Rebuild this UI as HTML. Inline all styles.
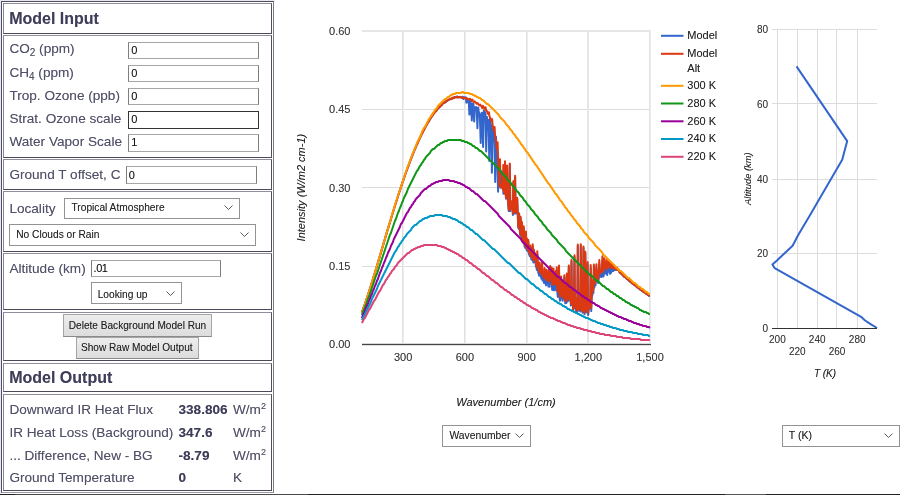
<!DOCTYPE html>
<html><head><meta charset="utf-8">
<style>
html,body{margin:0;padding:0;background:#fff;}
#root{position:absolute;left:0;top:0;width:900px;height:495px;will-change:transform;text-shadow:0 0 0.6px rgba(60,60,80,0.4);}
body{width:900px;height:495px;position:relative;overflow:hidden;font-family:"Liberation Sans",sans-serif;}
.a{position:absolute;}
.cell{position:absolute;left:3px;width:267px;border:1px solid;border-color:#8e8e9c #50505e #4a4a5a #84849a;box-sizing:content-box;}
.lab{position:absolute;left:9.4px;font-size:13.6px;color:#505068;white-space:nowrap;line-height:16px;}
.ttl{position:absolute;left:9.2px;font-size:16px;font-weight:bold;color:#3e3e5a;white-space:nowrap;line-height:18px;}
.inp{position:absolute;box-sizing:border-box;border:1px solid;border-color:#a6a6a6 #7e7e7e #a6a6a6 #7e7e7e;background:#fff;font-size:11px;color:#111;line-height:15px;padding-left:2.2px;}
.sel{position:absolute;box-sizing:border-box;border:1px solid #939393;background:#fff;font-size:10.2px;color:#222;white-space:nowrap;}
.sel span{position:absolute;top:50%;transform:translateY(-50%);}
.chev{position:absolute;}
.btn{position:absolute;box-sizing:border-box;border:1px solid #a6a6a6;border-bottom-color:#8a8a8a;background:linear-gradient(#ededed,#dcdcdc);padding-top:1px;font-size:10.1px;color:#222;text-align:center;white-space:nowrap;}
sub{font-size:10px;vertical-align:-2.5px;line-height:0;}
sup{font-size:9px;vertical-align:5px;line-height:0;}
.val{position:absolute;left:178.5px;font-size:13.6px;font-weight:bold;color:#3c3c58;white-space:nowrap;line-height:16px;}
.unit{position:absolute;left:233px;font-size:13.6px;color:#505068;white-space:nowrap;line-height:16px;}
svg text{font-family:"Liberation Sans",sans-serif;}
</style></head><body><div id="root">

<!-- left panel outer -->
<div class="a" style="left:0;top:0;width:275px;height:1px;background:#e8e8ec"></div>
<div class="a" style="left:0;top:0;width:1px;height:494px;background:#e8e8ec"></div>
<div class="a" style="left:1px;top:1px;width:271px;height:490px;border:1px solid;border-color:#4e4e66 #7a7a88 #9a9aa6 #4e4e66;"></div>

<div class="cell" style="top:3px;height:29px"></div>
<div class="cell" style="top:35px;height:121px"></div>
<div class="cell" style="top:159px;height:29px"></div>
<div class="cell" style="top:191px;height:59px"></div>
<div class="cell" style="top:253px;height:55px"></div>
<div class="cell" style="top:312px;height:47px"></div>
<div class="cell" style="top:363px;height:27px"></div>
<div class="cell" style="top:394px;height:95px"></div>

<div class="ttl" style="top:10px">Model Input</div>

<div class="lab" style="top:41.3px">CO<sub>2</sub> (ppm)</div>
<div class="lab" style="top:65px">CH<sub>4</sub> (ppm)</div>
<div class="lab" style="top:88px">Trop. Ozone (ppb)</div>
<div class="lab" style="top:111.4px">Strat. Ozone scale</div>
<div class="lab" style="top:134.3px">Water Vapor Scale</div>

<div class="inp" style="left:128px;top:42px;width:131px;height:17px">0</div>
<div class="inp" style="left:128px;top:65px;width:131px;height:17px">0</div>
<div class="inp" style="left:128px;top:88px;width:131px;height:17px">0</div>
<div class="inp" style="left:128px;top:111px;width:131px;height:18px;border-color:#333">0</div>
<div class="inp" style="left:128px;top:134px;width:131px;height:18px">1</div>

<div class="lab" style="top:167px">Ground T offset, C</div>
<div class="inp" style="left:126px;top:166px;width:131px;height:18px;line-height:16.5px;padding-left:1.8px">0</div>

<div class="lab" style="top:200.8px">Locality</div>
<div class="sel" style="left:64px;top:197.6px;width:176px;height:21.2px"><span style="left:6.5px;margin-top:-0.8px">Tropical Atmosphere</span>
<svg class="chev" style="left:158.8px;top:6.3px" width="9" height="5" viewBox="0 0 9 5"><polyline points="0.5,0.5 4.5,4.5 8.5,0.5" fill="none" stroke="#5a5a5a" stroke-width="1"/></svg></div>
<div class="sel" style="left:9px;top:224px;width:247px;height:22px"><span style="left:6.2px;margin-top:-1.2px">No Clouds or Rain</span>
<svg class="chev" style="left:229.8px;top:7.3px" width="9" height="5" viewBox="0 0 9 5"><polyline points="0.5,0.5 4.5,4.5 8.5,0.5" fill="none" stroke="#5a5a5a" stroke-width="1"/></svg></div>

<div class="lab" style="top:260.5px">Altitude (km)</div>
<div class="inp" style="left:91px;top:260px;width:130px;height:17px;padding-left:1.5px;letter-spacing:-0.4px">.01</div>
<div class="sel" style="left:91px;top:282px;width:91px;height:22px"><span style="left:5.7px;margin-top:1px">Looking up</span>
<svg class="chev" style="left:73.8px;top:7.7px" width="9" height="5" viewBox="0 0 9 5"><polyline points="0.5,0.5 4.5,4.5 8.5,0.5" fill="none" stroke="#5a5a5a" stroke-width="1"/></svg></div>

<div class="btn" style="left:63px;top:314px;width:149px;height:23px;line-height:20px">Delete Background Model Run</div>
<div class="btn" style="left:76px;top:336.6px;width:123px;height:22.4px;line-height:20px;padding-top:0;padding-right:1.5px">Show Raw Model Output</div>

<div class="ttl" style="top:369px">Model Output</div>

<div class="lab" style="top:402px">Downward IR Heat Flux</div>
<div class="lab" style="top:425px">IR Heat Loss (Background)</div>
<div class="lab" style="top:447.5px">... Difference, New - BG</div>
<div class="lab" style="top:469.5px">Ground Temperature</div>
<div class="val" style="top:402px">338.806</div>
<div class="val" style="top:425px">347.6</div>
<div class="val" style="top:447.5px">-8.79</div>
<div class="val" style="top:469.5px">0</div>
<div class="unit" style="top:402px">W/m<sup>2</sup></div>
<div class="unit" style="top:425px">W/m<sup>2</sup></div>
<div class="unit" style="top:447.5px">W/m<sup>2</sup></div>
<div class="unit" style="top:469.5px">K</div>

<!-- charts -->
<svg class="a" style="left:0;top:0" width="900" height="495" viewBox="0 0 900 495">
<g stroke="#dcdcdc" stroke-width="1" shape-rendering="crispEdges">
<line x1="362" y1="30.5" x2="651" y2="30.5" stroke="#e6e6e6"/>
<line x1="362" y1="31.5" x2="651" y2="31.5" stroke="#e6e6e6"/>
<line x1="362" y1="109.5" x2="651" y2="109.5"/>
<line x1="362" y1="187.5" x2="651" y2="187.5"/>
<line x1="362" y1="266.5" x2="651" y2="266.5"/>
<line x1="402.5" y1="30" x2="402.5" y2="344" stroke="#e0e0e0"/>
<line x1="403.5" y1="30" x2="403.5" y2="344" stroke="#eeeeee"/>
<line x1="464.5" y1="30" x2="464.5" y2="344" stroke="#e0e0e0"/>
<line x1="465.5" y1="30" x2="465.5" y2="344" stroke="#eeeeee"/>
<line x1="526.5" y1="30" x2="526.5" y2="344" stroke="#e0e0e0"/>
<line x1="527.5" y1="30" x2="527.5" y2="344" stroke="#eeeeee"/>
<line x1="587.5" y1="30" x2="587.5" y2="344" stroke="#e4e4e4"/>
<line x1="588.5" y1="30" x2="588.5" y2="344" stroke="#e8e8e8"/>
<line x1="649.5" y1="30" x2="649.5" y2="344" stroke="#e4e4e4"/>
<line x1="650.5" y1="30" x2="650.5" y2="344" stroke="#eaeaea"/>
</g>
<g fill="none" stroke-width="2" stroke-linejoin="round">
<polyline points="361.9,312.3 362.6,310.4 363.3,308.5 364.0,306.6 364.7,304.6 365.4,302.5 366.1,300.5 366.8,298.4 367.5,296.3 368.2,294.1 368.9,292.0 369.6,289.8 370.3,287.7 371.0,285.4 371.7,283.1 372.4,281.0 373.1,278.6 373.8,276.3 374.5,274.0 375.2,271.7 375.9,269.5 376.6,267.2 377.3,264.7 378.0,262.5 378.7,260.1 379.4,257.7 380.1,255.4 380.8,253.0 381.5,250.6 382.2,248.1 382.9,245.8 383.6,243.4 384.3,241.1 385.0,238.7 385.7,236.4 386.4,234.1 387.1,231.5 387.8,229.1 388.5,226.8 389.2,224.5 389.9,222.4 390.6,220.1 391.3,217.7 392.0,215.5 392.7,213.0 393.4,210.8 394.1,208.4 394.8,206.3 395.5,203.8 396.2,201.7 396.9,199.8 397.6,197.5 398.3,195.0 399.0,193.1 399.7,190.7 400.4,188.8 401.1,186.9 401.8,184.5 402.5,182.4 403.2,180.6 403.9,178.6 404.6,176.5 405.3,174.1 406.0,172.3 406.7,170.7 407.4,168.7 408.1,166.9 408.8,165.0 409.5,162.7 410.2,161.2 410.9,159.2 411.6,157.5 412.3,155.9 413.0,153.8 413.7,152.4 414.4,150.4 415.1,149.1 415.8,147.2 416.5,145.7 417.2,144.1 417.9,142.0 418.6,140.6 419.3,139.4 420.0,137.5 420.7,136.6 421.4,135.0 422.1,133.2 422.8,132.0 423.5,131.0 424.2,129.0 424.9,128.3 425.6,127.0 426.3,125.3 427.0,124.4 427.7,123.3 428.4,122.3 429.1,121.1 429.8,119.5 430.5,118.8 431.2,117.4 431.9,116.5 432.6,115.4 433.3,114.0 434.0,113.5 434.7,112.4 435.4,111.3 436.1,111.1 436.8,110.3 437.5,108.7 438.2,108.0 438.9,107.8 439.6,107.2 440.3,105.9 441.0,105.0 441.7,105.2 442.4,103.8 443.1,103.2 443.8,103.0 444.5,102.6 445.2,102.4 445.9,102.0 446.6,100.5 447.3,100.9 448.0,99.9 448.7,100.1 449.4,99.1 450.1,99.0 450.8,99.0 451.5,98.8 452.2,97.9 452.9,98.4 453.6,98.0 454.3,97.4 455.0,96.9 455.7,97.0 456.4,97.3 457.1,96.4 457.8,97.2 458.5,97.4 459.2,97.0 459.9,96.8 460.6,97.3 461.3,97.2 462.0,97.0 462.7,96.7 463.4,99.0 464.2,97.2 464.7,97.8 465.4,98.4 465.7,97.3 466.4,102.7 467.2,99.3 467.7,100.7 468.4,102.6 468.7,100.3 469.4,114.6 470.2,99.4 470.7,105.0 471.0,103.3 471.8,120.4 472.5,103.6 473.0,105.5 473.4,103.8 474.2,121.4 474.9,107.2 475.4,109.3 476.1,107.0 476.7,108.8 477.4,128.3 478.2,107.4 478.7,111.7 479.4,112.9 479.9,116.7 480.7,142.9 481.4,114.9 481.9,112.7 482.3,113.7 483.1,147.1 483.8,110.4 484.3,118.9 485.0,112.0 485.5,114.3 486.2,151.6 487.0,117.1 487.5,122.3 488.2,128.2 488.5,120.1 489.3,161.1 490.0,118.0 490.5,121.4 491.1,127.4 491.9,172.7 492.6,125.5 493.1,136.2 493.8,131.4 494.5,143.6 495.2,182.0 496.0,136.7 496.5,152.4 497.2,153.6 497.3,161.1 498.1,191.7 498.8,160.2 499.3,177.2 499.8,174.1 500.5,187.8 501.3,171.1 501.8,185.4 502.4,187.1 502.9,179.9 503.4,193.7 503.9,192.4 504.6,190.3 505.5,188.8 506.0,198.7 506.6,197.0 507.1,166.7 507.6,195.7 508.1,203.8 508.8,211.1 509.3,205.1 509.8,164.8 510.3,211.1 510.8,205.7 511.5,206.3 512.2,202.2 512.9,214.9 513.4,182.4 513.9,212.5 514.4,213.5 514.6,212.5 515.1,177.1 515.6,212.6 516.1,213.4 516.7,213.1 517.2,199.1 517.7,213.0 518.2,227.1 518.6,228.8 519.1,214.7 519.6,227.4 520.1,234.9 520.6,218.2 521.1,230.5 521.4,237.9 521.9,223.7 522.4,239.5 522.9,237.4 523.2,242.9 523.7,227.9 524.2,242.2 524.7,246.9 525.4,246.8 525.4,248.1 525.9,233.4 526.4,247.9 526.6,249.9 527.1,240.8 527.6,251.2 527.8,249.9 528.3,242.0 528.8,253.7 529.3,254.9 529.8,256.2 530.3,247.6 530.8,252.9 531.3,259.5 532.0,257.1 532.2,259.9 532.7,246.6 533.2,261.9 533.5,262.5 534.0,252.1 534.5,261.8 534.5,261.3 535.0,255.6 535.5,262.3 536.0,266.8 536.7,268.1 536.8,269.9 537.3,254.6 537.8,267.6 538.3,273.0 539.0,274.4 539.2,275.8 539.7,266.8 540.2,272.6 540.7,275.1 541.4,278.8 541.6,278.1 542.1,267.7 542.6,280.6 543.1,280.4 543.8,281.3 544.1,283.1 544.6,273.2 545.1,280.0 545.6,283.4 546.1,285.4 546.6,275.1 547.1,280.4 547.6,283.6 548.3,282.8 548.4,286.6 548.9,274.4 549.4,281.1 549.7,286.7 550.2,271.5 550.7,282.1 551.1,283.0 551.6,273.3 552.1,289.7 552.6,289.9 553.0,288.5 553.5,274.4 554.0,290.4 554.5,289.4 555.2,289.0 555.7,277.0 556.2,290.4 556.3,289.1 556.8,272.9 557.3,291.6 557.8,296.8 558.5,293.5 558.5,296.4 559.0,270.0 559.5,297.9 560.0,300.7 560.6,298.5 561.1,279.9 561.6,291.5 561.6,297.4 562.1,284.8 562.6,300.8 563.1,298.5 563.8,295.6 564.3,277.8 564.8,297.5 565.3,303.3 566.0,300.4 566.3,303.1 566.8,275.7 567.3,301.6 567.8,301.5 568.3,297.3 568.8,267.3 569.3,298.5 569.8,299.5 569.9,300.6 570.4,287.8 570.9,305.6 571.0,299.9 571.5,261.3 572.0,304.2 572.5,298.7 573.2,310.6 573.9,302.8 574.0,297.8 574.5,256.7 575.0,308.2 575.5,299.5 576.2,311.7 576.9,311.9 577.3,312.0 577.8,246.0 578.3,309.8 578.8,310.5 579.5,310.3 580.2,302.5 580.3,311.5 580.8,245.7 581.3,303.3 581.8,302.6 582.5,312.7 583.0,300.6 583.5,248.1 584.0,305.6 584.5,314.3 584.8,310.4 585.3,253.3 585.8,309.3 586.3,312.2 587.0,306.1 587.1,312.5 587.6,263.9 588.1,315.1 588.6,311.2 589.3,302.0 590.0,305.8 590.2,308.2 590.7,267.9 591.2,311.1 591.7,297.0 592.4,294.9 593.1,282.6 593.4,293.0 593.9,267.8 594.4,287.5 594.9,278.6 595.6,285.3 595.9,276.1 596.4,267.8 596.9,281.3 597.4,274.5 598.1,283.0 598.8,278.1 598.8,275.3 599.3,263.9 599.8,274.1 600.3,276.8 601.0,274.7 601.7,277.0 601.9,273.9 602.4,261.0 602.9,274.2 603.4,276.6 603.8,275.1 604.3,263.7 604.8,272.1 605.3,273.5 606.0,272.0 606.2,271.7 606.7,265.5 607.2,275.0 607.5,272.0 608.0,268.0 608.5,270.9 608.5,271.6 609.0,267.9 609.5,272.4 610.0,272.9 610.1,273.8 610.6,268.0 611.1,272.7 611.6,271.1 612.1,270.9 612.6,267.5 613.1,269.8 613.3,271.1 613.8,267.6 614.3,270.1 614.4,269.8 614.9,267.8 615.4,268.9 615.9,270.1 616.6,270.0 616.7,269.7 617.2,267.9 617.7,270.1 618.2,269.4 618.9,270.4 619.1,271.9 619.8,272.7 620.5,273.3 621.2,273.8 621.9,274.5 622.6,275.1 623.3,275.9 624.0,276.8 624.7,276.9 625.4,277.5 626.1,278.2 626.8,279.0 627.5,279.2 628.2,280.0 628.9,280.8 629.6,281.1 630.3,282.0 631.0,282.5 631.7,282.7 632.4,283.8 633.1,283.9 633.8,284.7 634.5,285.1 635.2,285.6 635.9,286.0 636.6,286.9 637.3,287.5 638.0,287.8 638.7,288.5 639.4,288.9 640.1,289.6 640.8,290.1 641.5,290.4 642.2,291.2 642.9,291.6 643.6,292.0 644.3,292.6 645.0,292.8 645.7,293.2 646.4,294.1 647.1,294.2 647.8,295.0 648.5,295.2 649.2,296.0 649.9,296.1" stroke="#3366cc"/>
<polyline points="361.9,312.3 362.6,310.4 363.3,308.5 364.0,306.6 364.7,304.6 365.4,302.5 366.1,300.5 366.8,298.4 367.5,296.3 368.2,294.2 368.9,292.0 369.6,289.8 370.3,287.7 371.0,285.5 371.7,283.1 372.4,280.9 373.1,278.6 373.8,276.3 374.5,274.1 375.2,271.8 375.9,269.4 376.6,267.1 377.3,264.7 378.0,262.4 378.7,259.9 379.4,257.7 380.1,255.3 380.8,253.0 381.5,250.6 382.2,248.2 382.9,245.9 383.6,243.6 384.3,241.1 385.0,238.7 385.7,236.3 386.4,234.0 387.1,231.6 387.8,229.4 388.5,227.1 389.2,224.7 389.9,222.2 390.6,220.1 391.3,217.8 392.0,215.5 392.7,213.2 393.4,210.9 394.1,208.5 394.8,206.1 395.5,204.1 396.2,201.9 396.9,199.7 397.6,197.5 398.3,195.1 399.0,193.0 399.7,191.0 400.4,189.0 401.1,186.5 401.8,184.5 402.5,182.3 403.2,180.6 403.9,178.4 404.6,176.2 405.3,174.4 406.0,172.2 406.7,170.7 407.4,168.3 408.1,166.9 408.8,164.8 409.5,163.2 410.2,160.8 410.9,159.1 411.6,157.1 412.3,155.5 413.0,153.6 413.7,152.2 414.4,150.2 415.1,148.6 415.8,147.3 416.5,145.2 417.2,144.0 417.9,142.6 418.6,141.1 419.3,139.3 420.0,138.0 420.7,136.0 421.4,134.5 422.1,133.7 422.8,132.4 423.5,130.7 424.2,129.6 424.9,128.0 425.6,126.5 426.3,125.7 427.0,124.3 427.7,122.7 428.4,121.9 429.1,120.9 429.8,119.3 430.5,118.2 431.2,117.1 431.9,116.2 432.6,115.5 433.3,114.2 434.0,113.1 434.7,112.4 435.4,111.9 436.1,111.0 436.8,110.0 437.5,108.9 438.2,108.3 438.9,107.5 439.6,106.5 440.3,106.6 441.0,105.4 441.7,105.0 442.4,104.2 443.1,103.3 443.8,103.3 444.5,102.0 445.2,102.5 445.9,101.4 446.6,101.0 447.3,100.9 448.0,100.1 448.7,99.8 449.4,99.5 450.1,98.8 450.8,99.3 451.5,98.6 452.2,97.9 452.9,98.4 453.6,97.3 454.3,97.9 455.0,97.1 455.7,97.6 456.4,97.1 457.1,97.0 457.8,97.4 458.5,96.9 459.2,97.4 460.0,96.9 460.5,97.3 461.2,97.3 461.6,97.6 462.4,98.3 463.1,97.5 463.6,98.0 464.3,98.1 465.0,98.1 465.8,98.8 466.5,98.1 467.0,98.8 467.7,98.6 468.0,98.9 468.8,99.6 469.5,98.8 470.0,99.0 470.7,99.4 470.8,99.5 471.6,100.9 472.3,99.6 472.8,100.5 473.2,101.1 474.0,102.2 474.7,101.3 475.2,102.1 475.9,102.9 476.1,102.9 476.8,103.8 477.6,103.0 478.1,103.8 478.7,104.5 479.4,105.5 480.2,104.5 480.7,105.4 481.4,106.1 481.4,106.3 482.2,108.0 482.9,105.7 483.4,107.7 484.1,107.3 484.8,109.6 485.6,107.3 486.1,110.2 486.8,111.0 487.4,112.3 488.2,114.0 488.9,112.2 489.4,116.1 490.1,117.5 490.6,119.6 491.3,120.9 492.1,119.1 492.6,125.4 493.1,127.9 493.8,130.7 494.6,127.0 495.1,135.7 495.8,139.3 496.1,141.6 496.9,149.1 497.6,142.2 498.1,158.0 498.8,175.5 499.5,186.5 499.5,182.2 500.0,159.3 500.5,186.4 501.0,187.3 501.7,184.6 502.4,188.4 502.8,189.5 503.3,165.0 503.8,191.4 504.3,190.7 504.5,193.8 505.0,161.2 505.5,187.8 506.0,197.6 506.6,196.0 507.1,165.6 507.6,194.6 508.1,202.7 508.8,209.9 509.3,204.0 509.8,163.6 510.3,209.9 510.8,204.5 511.5,205.0 512.2,201.0 512.9,213.6 513.4,181.1 513.9,211.2 514.4,212.2 514.6,211.1 515.1,175.7 515.6,211.2 516.1,212.0 516.7,211.7 517.2,197.7 517.7,211.6 518.2,225.6 518.6,227.4 519.1,213.2 519.6,225.9 520.1,233.4 520.6,216.7 521.1,228.9 521.4,236.3 521.9,222.1 522.4,237.9 522.9,235.7 523.2,241.2 523.7,226.2 524.2,240.4 524.7,245.1 525.4,244.9 525.4,246.3 525.9,231.5 526.4,246.0 526.6,247.9 527.1,238.8 527.6,249.2 527.8,247.9 528.3,240.0 528.8,251.6 529.3,252.8 529.8,254.0 530.3,245.4 530.8,250.7 531.3,257.2 532.0,254.8 532.2,257.6 532.7,244.2 533.2,259.5 533.5,260.1 534.0,249.7 534.5,259.3 534.5,258.9 535.0,253.1 535.5,259.7 536.0,263.9 536.7,265.0 536.8,266.7 537.3,251.3 537.8,264.1 538.3,269.3 539.0,270.5 539.2,271.8 539.7,262.6 540.2,268.2 540.7,270.6 541.4,274.0 541.6,273.3 542.1,262.7 542.6,275.6 543.1,275.4 543.8,276.2 544.1,278.0 544.6,268.0 545.1,274.8 545.6,278.2 546.1,280.1 546.6,269.8 547.1,275.0 547.6,278.2 548.3,277.4 548.4,281.2 548.9,268.9 549.4,275.6 549.7,281.1 550.2,265.9 550.7,276.5 551.1,277.3 551.6,267.6 552.1,284.0 552.6,284.2 553.0,282.7 553.5,268.6 554.0,284.5 554.5,283.5 555.2,283.1 555.7,271.0 556.2,284.5 556.3,283.3 556.8,267.3 557.3,286.3 557.8,291.6 558.5,288.7 558.5,291.7 559.0,265.5 559.5,293.7 560.0,296.7 560.6,294.8 561.1,276.4 561.6,288.2 561.6,294.2 562.1,281.8 562.6,297.9 563.1,295.7 563.8,293.0 564.3,275.2 564.8,295.0 565.3,300.9 566.0,298.1 566.3,300.9 566.8,273.6 567.3,299.6 567.8,299.6 568.3,295.5 568.8,265.6 569.3,296.9 569.8,297.9 569.9,299.1 570.4,286.3 570.9,304.1 571.0,298.4 571.5,259.8 572.0,302.7 572.5,297.2 573.2,309.1 573.9,301.3 574.0,296.3 574.5,255.2 575.0,306.7 575.5,298.0 576.2,310.2 576.9,310.4 577.3,310.5 577.8,244.5 578.3,308.3 578.8,309.0 579.5,308.8 580.2,301.0 580.3,310.0 580.8,244.2 581.3,301.8 581.8,301.1 582.5,311.2 583.0,299.1 583.5,246.6 584.0,304.1 584.5,312.8 584.8,308.9 585.3,251.7 585.8,307.6 586.3,310.4 587.0,304.1 587.1,310.5 587.6,261.9 588.1,312.9 588.6,308.9 589.3,299.5 590.0,303.2 590.2,305.6 590.7,265.1 591.2,308.2 591.7,294.1 592.4,291.9 593.1,279.5 593.4,289.8 593.9,264.5 594.4,284.2 594.9,275.3 595.6,281.8 595.9,272.6 596.4,264.3 596.9,277.7 597.4,270.8 598.1,279.3 598.8,274.3 598.8,271.4 599.3,260.0 599.8,270.1 600.3,272.7 601.0,270.4 601.7,272.5 601.9,269.2 602.4,256.2 602.9,269.2 603.4,271.5 603.8,269.8 604.3,258.3 604.8,266.5 605.3,267.7 606.0,266.0 606.2,265.7 606.7,259.5 607.2,269.0 607.5,266.0 608.0,262.0 608.5,264.9 608.5,265.6 609.0,261.9 609.5,266.4 610.0,267.0 610.1,267.9 610.6,262.6 611.1,267.9 611.6,266.7 612.1,267.0 612.6,264.1 613.1,267.0 613.3,268.4 613.8,265.4 614.3,268.3 614.4,268.1 614.9,266.4 615.4,267.8 615.9,269.4 616.6,269.8 616.7,269.5 617.2,267.6 617.7,269.8 618.2,269.1 618.9,270.1 619.1,271.6 619.8,272.4 620.5,273.0 621.2,273.5 621.9,274.2 622.6,274.8 623.3,275.6 624.0,276.5 624.7,276.6 625.4,277.2 626.1,277.9 626.8,278.7 627.5,278.9 628.2,279.7 628.9,280.5 629.6,280.8 630.3,281.7 631.0,282.2 631.7,282.4 632.4,283.5 633.1,283.6 633.8,284.4 634.5,284.8 635.2,285.3 635.9,285.7 636.6,286.6 637.3,287.2 638.0,287.5 638.7,288.2 639.4,288.6 640.1,289.3 640.8,289.8 641.5,290.1 642.2,290.9 642.9,291.3 643.6,291.7 644.3,292.3 645.0,292.5 645.7,292.9 646.4,293.8 647.1,293.9 647.8,294.7 648.5,294.9 649.2,295.7 649.9,295.8" stroke="#dc3912"/>
<polyline points="361.9,312.0 362.9,310.0 363.9,307.0 364.9,304.0 365.9,301.0 366.9,298.0 367.9,295.0 368.9,292.0 369.9,289.0 370.9,286.0 371.9,282.0 372.9,279.0 373.9,276.0 374.9,273.0 375.9,269.0 376.9,266.0 377.9,263.0 378.9,259.0 379.9,256.0 380.9,252.0 381.9,249.0 382.9,246.0 383.9,242.0 384.9,239.0 385.9,235.0 386.9,232.0 387.9,229.0 388.9,225.0 389.9,222.0 390.9,219.0 391.9,215.0 392.9,212.0 393.9,209.0 394.9,205.0 395.9,202.0 396.9,199.0 397.9,196.0 398.9,193.0 399.9,190.0 400.9,187.0 401.9,184.0 402.9,181.0 403.9,178.0 404.9,175.0 405.9,172.0 406.9,169.0 407.9,166.0 408.9,164.0 409.9,161.0 410.9,158.0 411.9,156.0 412.9,153.0 413.9,151.0 414.9,148.0 415.9,146.0 416.9,143.0 417.9,141.0 418.9,139.0 419.9,137.0 420.9,135.0 421.9,132.0 422.9,130.0 423.9,128.0 424.9,127.0 425.9,125.0 426.9,123.0 427.9,121.0 428.9,119.0 429.9,118.0 430.9,116.0 431.9,115.0 432.9,113.0 433.9,112.0 434.9,110.0 435.9,109.0 436.9,108.0 437.9,106.0 438.9,105.0 439.9,104.0 440.9,103.0 441.9,102.0 442.9,101.0 443.9,100.0 444.9,99.0 445.9,99.0 446.9,98.0 447.9,97.0 448.9,97.0 449.9,96.0 450.9,95.0 451.9,95.0 452.9,94.0 453.9,94.0 454.9,94.0 455.9,93.0 456.9,93.0 457.9,93.0 458.9,93.0 459.9,93.0 460.9,93.0 461.9,92.0 462.9,92.0 463.9,93.0 464.9,93.0 465.9,93.0 466.9,93.0 467.9,93.0 468.9,93.0 469.9,94.0 470.9,94.0 471.9,94.0 472.9,95.0 473.9,95.0 474.9,96.0 475.9,96.0 476.9,97.0 477.9,97.0 478.9,98.0 479.9,98.0 480.9,99.0 481.9,100.0 482.9,100.0 483.9,101.0 484.9,102.0 485.9,103.0 486.9,104.0 487.9,104.0 488.9,105.0 489.9,106.0 490.9,107.0 491.9,108.0 492.9,109.0 493.9,110.0 494.9,111.0 495.9,112.0 496.9,113.0 497.9,114.0 498.9,115.0 499.9,117.0 500.9,118.0 501.9,119.0 502.9,120.0 503.9,121.0 504.9,122.0 505.9,124.0 506.9,125.0 507.9,126.0 508.9,127.0 509.9,129.0 510.9,130.0 511.9,131.0 512.9,133.0 513.9,134.0 514.9,135.0 515.9,137.0 516.9,138.0 517.9,139.0 518.9,141.0 519.9,142.0 520.9,144.0 521.9,145.0 522.9,146.0 523.9,148.0 524.9,149.0 525.9,151.0 526.9,152.0 527.9,153.0 528.9,155.0 529.9,156.0 530.9,158.0 531.9,159.0 532.9,161.0 533.9,162.0 534.9,164.0 535.9,165.0 536.9,166.0 537.9,168.0 538.9,169.0 539.9,171.0 540.9,172.0 541.9,174.0 542.9,175.0 543.9,177.0 544.9,178.0 545.9,180.0 546.9,181.0 547.9,183.0 548.9,184.0 549.9,185.0 550.9,187.0 551.9,188.0 552.9,190.0 553.9,191.0 554.9,193.0 555.9,194.0 556.9,195.0 557.9,197.0 558.9,198.0 559.9,200.0 560.9,201.0 561.9,202.0 562.9,204.0 563.9,205.0 564.9,207.0 565.9,208.0 566.9,209.0 567.9,211.0 568.9,212.0 569.9,213.0 570.9,215.0 571.9,216.0 572.9,217.0 573.9,219.0 574.9,220.0 575.9,221.0 576.9,223.0 577.9,224.0 578.9,225.0 579.9,226.0 580.9,228.0 581.9,229.0 582.9,230.0 583.9,232.0 584.9,233.0 585.9,234.0 586.9,235.0 587.9,236.0 588.9,238.0 589.9,239.0 590.9,240.0 591.9,241.0 592.9,242.0 593.9,243.0 594.9,245.0 595.9,246.0 596.9,247.0 597.9,248.0 598.9,249.0 599.9,250.0 600.9,251.0 601.9,252.0 602.9,254.0 603.9,255.0 604.9,256.0 605.9,257.0 606.9,258.0 607.9,259.0 608.9,260.0 609.9,261.0 610.9,262.0 611.9,263.0 612.9,264.0 613.9,265.0 614.9,266.0 615.9,267.0 616.9,268.0 617.9,269.0 618.9,270.0 619.9,271.0 620.9,271.0 621.9,272.0 622.9,273.0 623.9,274.0 624.9,275.0 625.9,276.0 626.9,277.0 627.9,278.0 628.9,278.0 629.9,279.0 630.9,280.0 631.9,281.0 632.9,282.0 633.9,283.0 634.9,283.0 635.9,284.0 636.9,285.0 637.9,286.0 638.9,287.0 639.9,287.0 640.9,288.0 641.9,289.0 642.9,289.0 643.9,290.0 644.9,291.0 645.9,292.0 646.9,292.0 647.9,293.0 648.9,294.0 649.9,294.0" stroke="#ff9900"/>
<polyline points="361.9,315.0 362.9,312.0 363.9,310.0 364.9,307.0 365.9,305.0 366.9,302.0 367.9,299.0 368.9,297.0 369.9,294.0 370.9,291.0 371.9,288.0 372.9,285.0 373.9,282.0 374.9,279.0 375.9,276.0 376.9,274.0 377.9,271.0 378.9,268.0 379.9,265.0 380.9,262.0 381.9,259.0 382.9,256.0 383.9,253.0 384.9,250.0 385.9,247.0 386.9,244.0 387.9,241.0 388.9,238.0 389.9,235.0 390.9,233.0 391.9,230.0 392.9,227.0 393.9,224.0 394.9,221.0 395.9,219.0 396.9,216.0 397.9,213.0 398.9,211.0 399.9,208.0 400.9,206.0 401.9,203.0 402.9,201.0 403.9,198.0 404.9,196.0 405.9,194.0 406.9,192.0 407.9,189.0 408.9,187.0 409.9,185.0 410.9,183.0 411.9,181.0 412.9,179.0 413.9,177.0 414.9,175.0 415.9,173.0 416.9,171.0 417.9,170.0 418.9,168.0 419.9,166.0 420.9,165.0 421.9,163.0 422.9,162.0 423.9,160.0 424.9,159.0 425.9,157.0 426.9,156.0 427.9,155.0 428.9,154.0 429.9,153.0 430.9,151.0 431.9,150.0 432.9,149.0 433.9,149.0 434.9,148.0 435.9,147.0 436.9,146.0 437.9,145.0 438.9,145.0 439.9,144.0 440.9,143.0 441.9,143.0 442.9,142.0 443.9,142.0 444.9,141.0 445.9,141.0 446.9,141.0 447.9,140.0 448.9,140.0 449.9,140.0 450.9,140.0 451.9,140.0 452.9,140.0 453.9,140.0 454.9,140.0 455.9,140.0 456.9,140.0 457.9,140.0 458.9,140.0 459.9,140.0 460.9,140.0 461.9,141.0 462.9,141.0 463.9,141.0 464.9,142.0 465.9,142.0 466.9,142.0 467.9,143.0 468.9,143.0 469.9,144.0 470.9,144.0 471.9,145.0 472.9,146.0 473.9,146.0 474.9,147.0 475.9,148.0 476.9,148.0 477.9,149.0 478.9,150.0 479.9,151.0 480.9,151.0 481.9,152.0 482.9,153.0 483.9,154.0 484.9,155.0 485.9,156.0 486.9,157.0 487.9,158.0 488.9,159.0 489.9,160.0 490.9,161.0 491.9,162.0 492.9,163.0 493.9,164.0 494.9,165.0 495.9,166.0 496.9,167.0 497.9,168.0 498.9,169.0 499.9,170.0 500.9,172.0 501.9,173.0 502.9,174.0 503.9,175.0 504.9,176.0 505.9,177.0 506.9,179.0 507.9,180.0 508.9,181.0 509.9,182.0 510.9,183.0 511.9,185.0 512.9,186.0 513.9,187.0 514.9,188.0 515.9,190.0 516.9,191.0 517.9,192.0 518.9,193.0 519.9,195.0 520.9,196.0 521.9,197.0 522.9,198.0 523.9,200.0 524.9,201.0 525.9,202.0 526.9,204.0 527.9,205.0 528.9,206.0 529.9,207.0 530.9,209.0 531.9,210.0 532.9,211.0 533.9,212.0 534.9,214.0 535.9,215.0 536.9,216.0 537.9,217.0 538.9,219.0 539.9,220.0 540.9,221.0 541.9,222.0 542.9,224.0 543.9,225.0 544.9,226.0 545.9,227.0 546.9,229.0 547.9,230.0 548.9,231.0 549.9,232.0 550.9,233.0 551.9,235.0 552.9,236.0 553.9,237.0 554.9,238.0 555.9,239.0 556.9,240.0 557.9,242.0 558.9,243.0 559.9,244.0 560.9,245.0 561.9,246.0 562.9,247.0 563.9,248.0 564.9,249.0 565.9,251.0 566.9,252.0 567.9,253.0 568.9,254.0 569.9,255.0 570.9,256.0 571.9,257.0 572.9,258.0 573.9,259.0 574.9,260.0 575.9,261.0 576.9,262.0 577.9,263.0 578.9,264.0 579.9,265.0 580.9,266.0 581.9,267.0 582.9,268.0 583.9,269.0 584.9,270.0 585.9,271.0 586.9,272.0 587.9,273.0 588.9,274.0 589.9,275.0 590.9,275.0 591.9,276.0 592.9,277.0 593.9,278.0 594.9,279.0 595.9,280.0 596.9,281.0 597.9,281.0 598.9,282.0 599.9,283.0 600.9,284.0 601.9,285.0 602.9,286.0 603.9,286.0 604.9,287.0 605.9,288.0 606.9,289.0 607.9,289.0 608.9,290.0 609.9,291.0 610.9,292.0 611.9,292.0 612.9,293.0 613.9,294.0 614.9,294.0 615.9,295.0 616.9,296.0 617.9,296.0 618.9,297.0 619.9,298.0 620.9,298.0 621.9,299.0 622.9,300.0 623.9,300.0 624.9,301.0 625.9,302.0 626.9,302.0 627.9,303.0 628.9,303.0 629.9,304.0 630.9,305.0 631.9,305.0 632.9,306.0 633.9,306.0 634.9,307.0 635.9,307.0 636.9,308.0 637.9,308.0 638.9,309.0 639.9,310.0 640.9,310.0 641.9,311.0 642.9,311.0 643.9,312.0 644.9,312.0 645.9,312.0 646.9,313.0 647.9,313.0 648.9,314.0 649.9,314.0" stroke="#109618"/>
<polyline points="361.9,318.0 362.9,315.0 363.9,313.0 364.9,311.0 365.9,308.0 366.9,306.0 367.9,304.0 368.9,301.0 369.9,299.0 370.9,296.0 371.9,294.0 372.9,291.0 373.9,289.0 374.9,286.0 375.9,284.0 376.9,281.0 377.9,279.0 378.9,276.0 379.9,273.0 380.9,271.0 381.9,268.0 382.9,266.0 383.9,263.0 384.9,261.0 385.9,258.0 386.9,256.0 387.9,253.0 388.9,251.0 389.9,249.0 390.9,246.0 391.9,244.0 392.9,242.0 393.9,239.0 394.9,237.0 395.9,235.0 396.9,233.0 397.9,231.0 398.9,229.0 399.9,227.0 400.9,224.0 401.9,223.0 402.9,221.0 403.9,219.0 404.9,217.0 405.9,215.0 406.9,213.0 407.9,212.0 408.9,210.0 409.9,208.0 410.9,207.0 411.9,205.0 412.9,204.0 413.9,202.0 414.9,201.0 415.9,199.0 416.9,198.0 417.9,197.0 418.9,196.0 419.9,195.0 420.9,193.0 421.9,192.0 422.9,191.0 423.9,190.0 424.9,189.0 425.9,189.0 426.9,188.0 427.9,187.0 428.9,186.0 429.9,186.0 430.9,185.0 431.9,184.0 432.9,184.0 433.9,183.0 434.9,183.0 435.9,182.0 436.9,182.0 437.9,182.0 438.9,181.0 439.9,181.0 440.9,181.0 441.9,181.0 442.9,180.0 443.9,180.0 444.9,180.0 445.9,180.0 446.9,180.0 447.9,180.0 448.9,180.0 449.9,181.0 450.9,181.0 451.9,181.0 452.9,181.0 453.9,181.0 454.9,182.0 455.9,182.0 456.9,182.0 457.9,183.0 458.9,183.0 459.9,183.0 460.9,184.0 461.9,184.0 462.9,185.0 463.9,185.0 464.9,186.0 465.9,187.0 466.9,187.0 467.9,188.0 468.9,188.0 469.9,189.0 470.9,190.0 471.9,191.0 472.9,191.0 473.9,192.0 474.9,193.0 475.9,194.0 476.9,194.0 477.9,195.0 478.9,196.0 479.9,197.0 480.9,198.0 481.9,199.0 482.9,200.0 483.9,201.0 484.9,201.0 485.9,202.0 486.9,203.0 487.9,204.0 488.9,205.0 489.9,206.0 490.9,207.0 491.9,208.0 492.9,209.0 493.9,210.0 494.9,211.0 495.9,212.0 496.9,213.0 497.9,214.0 498.9,216.0 499.9,217.0 500.9,218.0 501.9,219.0 502.9,220.0 503.9,221.0 504.9,222.0 505.9,223.0 506.9,224.0 507.9,225.0 508.9,226.0 509.9,227.0 510.9,229.0 511.9,230.0 512.9,231.0 513.9,232.0 514.9,233.0 515.9,234.0 516.9,235.0 517.9,236.0 518.9,237.0 519.9,238.0 520.9,239.0 521.9,241.0 522.9,242.0 523.9,243.0 524.9,244.0 525.9,245.0 526.9,246.0 527.9,247.0 528.9,248.0 529.9,249.0 530.9,250.0 531.9,251.0 532.9,252.0 533.9,253.0 534.9,254.0 535.9,255.0 536.9,256.0 537.9,257.0 538.9,258.0 539.9,259.0 540.9,260.0 541.9,261.0 542.9,262.0 543.9,263.0 544.9,264.0 545.9,265.0 546.9,266.0 547.9,267.0 548.9,268.0 549.9,269.0 550.9,270.0 551.9,271.0 552.9,272.0 553.9,273.0 554.9,274.0 555.9,275.0 556.9,276.0 557.9,277.0 558.9,277.0 559.9,278.0 560.9,279.0 561.9,280.0 562.9,281.0 563.9,282.0 564.9,283.0 565.9,283.0 566.9,284.0 567.9,285.0 568.9,286.0 569.9,287.0 570.9,287.0 571.9,288.0 572.9,289.0 573.9,290.0 574.9,290.0 575.9,291.0 576.9,292.0 577.9,293.0 578.9,293.0 579.9,294.0 580.9,295.0 581.9,296.0 582.9,296.0 583.9,297.0 584.9,298.0 585.9,298.0 586.9,299.0 587.9,300.0 588.9,300.0 589.9,301.0 590.9,302.0 591.9,302.0 592.9,303.0 593.9,303.0 594.9,304.0 595.9,305.0 596.9,305.0 597.9,306.0 598.9,306.0 599.9,307.0 600.9,308.0 601.9,308.0 602.9,309.0 603.9,309.0 604.9,310.0 605.9,310.0 606.9,311.0 607.9,311.0 608.9,312.0 609.9,312.0 610.9,313.0 611.9,313.0 612.9,314.0 613.9,314.0 614.9,315.0 615.9,315.0 616.9,316.0 617.9,316.0 618.9,317.0 619.9,317.0 620.9,317.0 621.9,318.0 622.9,318.0 623.9,319.0 624.9,319.0 625.9,319.0 626.9,320.0 627.9,320.0 628.9,321.0 629.9,321.0 630.9,321.0 631.9,322.0 632.9,322.0 633.9,323.0 634.9,323.0 635.9,323.0 636.9,324.0 637.9,324.0 638.9,324.0 639.9,325.0 640.9,325.0 641.9,325.0 642.9,326.0 643.9,326.0 644.9,326.0 645.9,326.0 646.9,327.0 647.9,327.0 648.9,327.0 649.9,328.0" stroke="#990099"/>
<polyline points="361.9,320.0 362.9,318.0 363.9,316.0 364.9,314.0 365.9,312.0 366.9,310.0 367.9,308.0 368.9,306.0 369.9,304.0 370.9,302.0 371.9,299.0 372.9,297.0 373.9,295.0 374.9,293.0 375.9,291.0 376.9,289.0 377.9,286.0 378.9,284.0 379.9,282.0 380.9,280.0 381.9,278.0 382.9,276.0 383.9,274.0 384.9,272.0 385.9,270.0 386.9,268.0 387.9,266.0 388.9,264.0 389.9,262.0 390.9,260.0 391.9,258.0 392.9,256.0 393.9,254.0 394.9,252.0 395.9,251.0 396.9,249.0 397.9,247.0 398.9,246.0 399.9,244.0 400.9,243.0 401.9,241.0 402.9,240.0 403.9,238.0 404.9,237.0 405.9,236.0 406.9,234.0 407.9,233.0 408.9,232.0 409.9,231.0 410.9,230.0 411.9,228.0 412.9,227.0 413.9,226.0 414.9,225.0 415.9,225.0 416.9,224.0 417.9,223.0 418.9,222.0 419.9,221.0 420.9,221.0 421.9,220.0 422.9,219.0 423.9,219.0 424.9,218.0 425.9,218.0 426.9,218.0 427.9,217.0 428.9,217.0 429.9,216.0 430.9,216.0 431.9,216.0 432.9,216.0 433.9,216.0 434.9,215.0 435.9,215.0 436.9,215.0 437.9,215.0 438.9,215.0 439.9,215.0 440.9,215.0 441.9,215.0 442.9,216.0 443.9,216.0 444.9,216.0 445.9,216.0 446.9,216.0 447.9,217.0 448.9,217.0 449.9,217.0 450.9,218.0 451.9,218.0 452.9,219.0 453.9,219.0 454.9,219.0 455.9,220.0 456.9,220.0 457.9,221.0 458.9,222.0 459.9,222.0 460.9,223.0 461.9,223.0 462.9,224.0 463.9,225.0 464.9,225.0 465.9,226.0 466.9,227.0 467.9,227.0 468.9,228.0 469.9,229.0 470.9,230.0 471.9,230.0 472.9,231.0 473.9,232.0 474.9,233.0 475.9,234.0 476.9,234.0 477.9,235.0 478.9,236.0 479.9,237.0 480.9,238.0 481.9,239.0 482.9,240.0 483.9,240.0 484.9,241.0 485.9,242.0 486.9,243.0 487.9,244.0 488.9,245.0 489.9,246.0 490.9,247.0 491.9,248.0 492.9,249.0 493.9,249.0 494.9,250.0 495.9,251.0 496.9,252.0 497.9,253.0 498.9,254.0 499.9,255.0 500.9,256.0 501.9,257.0 502.9,258.0 503.9,259.0 504.9,260.0 505.9,261.0 506.9,262.0 507.9,263.0 508.9,263.0 509.9,264.0 510.9,265.0 511.9,266.0 512.9,267.0 513.9,268.0 514.9,269.0 515.9,270.0 516.9,271.0 517.9,272.0 518.9,273.0 519.9,273.0 520.9,274.0 521.9,275.0 522.9,276.0 523.9,277.0 524.9,278.0 525.9,279.0 526.9,279.0 527.9,280.0 528.9,281.0 529.9,282.0 530.9,283.0 531.9,284.0 532.9,284.0 533.9,285.0 534.9,286.0 535.9,287.0 536.9,288.0 537.9,288.0 538.9,289.0 539.9,290.0 540.9,291.0 541.9,291.0 542.9,292.0 543.9,293.0 544.9,294.0 545.9,294.0 546.9,295.0 547.9,296.0 548.9,297.0 549.9,297.0 550.9,298.0 551.9,299.0 552.9,299.0 553.9,300.0 554.9,301.0 555.9,301.0 556.9,302.0 557.9,303.0 558.9,303.0 559.9,304.0 560.9,304.0 561.9,305.0 562.9,306.0 563.9,306.0 564.9,307.0 565.9,307.0 566.9,308.0 567.9,309.0 568.9,309.0 569.9,310.0 570.9,310.0 571.9,311.0 572.9,311.0 573.9,312.0 574.9,312.0 575.9,313.0 576.9,313.0 577.9,314.0 578.9,314.0 579.9,315.0 580.9,315.0 581.9,316.0 582.9,316.0 583.9,317.0 584.9,317.0 585.9,318.0 586.9,318.0 587.9,318.0 588.9,319.0 589.9,319.0 590.9,320.0 591.9,320.0 592.9,321.0 593.9,321.0 594.9,321.0 595.9,322.0 596.9,322.0 597.9,323.0 598.9,323.0 599.9,323.0 600.9,324.0 601.9,324.0 602.9,324.0 603.9,325.0 604.9,325.0 605.9,325.0 606.9,326.0 607.9,326.0 608.9,326.0 609.9,327.0 610.9,327.0 611.9,327.0 612.9,328.0 613.9,328.0 614.9,328.0 615.9,328.0 616.9,329.0 617.9,329.0 618.9,329.0 619.9,330.0 620.9,330.0 621.9,330.0 622.9,330.0 623.9,331.0 624.9,331.0 625.9,331.0 626.9,331.0 627.9,332.0 628.9,332.0 629.9,332.0 630.9,332.0 631.9,332.0 632.9,333.0 633.9,333.0 634.9,333.0 635.9,333.0 636.9,333.0 637.9,334.0 638.9,334.0 639.9,334.0 640.9,334.0 641.9,334.0 642.9,335.0 643.9,335.0 644.9,335.0 645.9,335.0 646.9,335.0 647.9,335.0 648.9,336.0 649.9,336.0" stroke="#0099c6"/>
<polyline points="361.9,323.0 362.9,321.0 363.9,319.0 364.9,318.0 365.9,316.0 366.9,314.0 367.9,312.0 368.9,310.0 369.9,309.0 370.9,307.0 371.9,305.0 372.9,303.0 373.9,301.0 374.9,300.0 375.9,298.0 376.9,296.0 377.9,294.0 378.9,292.0 379.9,291.0 380.9,289.0 381.9,287.0 382.9,285.0 383.9,284.0 384.9,282.0 385.9,280.0 386.9,279.0 387.9,277.0 388.9,276.0 389.9,274.0 390.9,273.0 391.9,271.0 392.9,270.0 393.9,269.0 394.9,267.0 395.9,266.0 396.9,265.0 397.9,263.0 398.9,262.0 399.9,261.0 400.9,260.0 401.9,259.0 402.9,258.0 403.9,257.0 404.9,256.0 405.9,255.0 406.9,254.0 407.9,253.0 408.9,253.0 409.9,252.0 410.9,251.0 411.9,250.0 412.9,250.0 413.9,249.0 414.9,249.0 415.9,248.0 416.9,248.0 417.9,247.0 418.9,247.0 419.9,247.0 420.9,246.0 421.9,246.0 422.9,246.0 423.9,245.0 424.9,245.0 425.9,245.0 426.9,245.0 427.9,245.0 428.9,245.0 429.9,245.0 430.9,245.0 431.9,245.0 432.9,245.0 433.9,245.0 434.9,245.0 435.9,245.0 436.9,245.0 437.9,246.0 438.9,246.0 439.9,246.0 440.9,246.0 441.9,247.0 442.9,247.0 443.9,247.0 444.9,248.0 445.9,248.0 446.9,249.0 447.9,249.0 448.9,250.0 449.9,250.0 450.9,251.0 451.9,251.0 452.9,252.0 453.9,252.0 454.9,253.0 455.9,253.0 456.9,254.0 457.9,254.0 458.9,255.0 459.9,256.0 460.9,256.0 461.9,257.0 462.9,258.0 463.9,258.0 464.9,259.0 465.9,260.0 466.9,260.0 467.9,261.0 468.9,262.0 469.9,263.0 470.9,263.0 471.9,264.0 472.9,265.0 473.9,266.0 474.9,266.0 475.9,267.0 476.9,268.0 477.9,269.0 478.9,269.0 479.9,270.0 480.9,271.0 481.9,272.0 482.9,273.0 483.9,273.0 484.9,274.0 485.9,275.0 486.9,276.0 487.9,276.0 488.9,277.0 489.9,278.0 490.9,279.0 491.9,280.0 492.9,280.0 493.9,281.0 494.9,282.0 495.9,283.0 496.9,283.0 497.9,284.0 498.9,285.0 499.9,286.0 500.9,287.0 501.9,287.0 502.9,288.0 503.9,289.0 504.9,290.0 505.9,290.0 506.9,291.0 507.9,292.0 508.9,292.0 509.9,293.0 510.9,294.0 511.9,295.0 512.9,295.0 513.9,296.0 514.9,297.0 515.9,297.0 516.9,298.0 517.9,299.0 518.9,299.0 519.9,300.0 520.9,301.0 521.9,301.0 522.9,302.0 523.9,303.0 524.9,303.0 525.9,304.0 526.9,305.0 527.9,305.0 528.9,306.0 529.9,306.0 530.9,307.0 531.9,308.0 532.9,308.0 533.9,309.0 534.9,309.0 535.9,310.0 536.9,310.0 537.9,311.0 538.9,312.0 539.9,312.0 540.9,313.0 541.9,313.0 542.9,314.0 543.9,314.0 544.9,315.0 545.9,315.0 546.9,316.0 547.9,316.0 548.9,317.0 549.9,317.0 550.9,318.0 551.9,318.0 552.9,318.0 553.9,319.0 554.9,319.0 555.9,320.0 556.9,320.0 557.9,321.0 558.9,321.0 559.9,321.0 560.9,322.0 561.9,322.0 562.9,323.0 563.9,323.0 564.9,323.0 565.9,324.0 566.9,324.0 567.9,325.0 568.9,325.0 569.9,325.0 570.9,326.0 571.9,326.0 572.9,326.0 573.9,327.0 574.9,327.0 575.9,327.0 576.9,328.0 577.9,328.0 578.9,328.0 579.9,328.0 580.9,329.0 581.9,329.0 582.9,329.0 583.9,330.0 584.9,330.0 585.9,330.0 586.9,330.0 587.9,331.0 588.9,331.0 589.9,331.0 590.9,331.0 591.9,332.0 592.9,332.0 593.9,332.0 594.9,332.0 595.9,333.0 596.9,333.0 597.9,333.0 598.9,333.0 599.9,334.0 600.9,334.0 601.9,334.0 602.9,334.0 603.9,334.0 604.9,335.0 605.9,335.0 606.9,335.0 607.9,335.0 608.9,335.0 609.9,335.0 610.9,336.0 611.9,336.0 612.9,336.0 613.9,336.0 614.9,336.0 615.9,336.0 616.9,337.0 617.9,337.0 618.9,337.0 619.9,337.0 620.9,337.0 621.9,337.0 622.9,338.0 623.9,338.0 624.9,338.0 625.9,338.0 626.9,338.0 627.9,338.0 628.9,338.0 629.9,338.0 630.9,339.0 631.9,339.0 632.9,339.0 633.9,339.0 634.9,339.0 635.9,339.0 636.9,339.0 637.9,339.0 638.9,339.0 639.9,339.0 640.9,340.0 641.9,340.0 642.9,340.0 643.9,340.0 644.9,340.0 645.9,340.0 646.9,340.0 647.9,340.0 648.9,340.0 649.9,340.0" stroke="#dd4477"/>

</g>
<line x1="362" y1="344.5" x2="651" y2="344.5" stroke="#454545" stroke-width="1" shape-rendering="crispEdges"/>
<line x1="362" y1="343.5" x2="651" y2="343.5" stroke="#d8d8d8" stroke-width="1" shape-rendering="crispEdges"/>
<line x1="362" y1="345.5" x2="651" y2="345.5" stroke="#e0e0e0" stroke-width="1" shape-rendering="crispEdges"/>
<g font-size="11" fill="#383838" text-anchor="end">
<text x="350.5" y="35">0.60</text>
<text x="350.5" y="113.3">0.45</text>
<text x="350.5" y="191.5">0.30</text>
<text x="350.5" y="269.8">0.15</text>
<text x="350.5" y="348">0.00</text>
</g>
<g font-size="11" fill="#383838" text-anchor="middle">
<text x="403.1" y="361">300</text>
<text x="464.9" y="361">600</text>
<text x="526.6" y="361">900</text>
<text x="588.3" y="361">1,200</text>
<text x="650" y="361">1,500</text>
</g>
<text x="506" y="406" font-size="11" font-style="italic" fill="#222" text-anchor="middle">Wavenumber (1/cm)</text>
<text transform="translate(304.6,187.6) rotate(-90)" font-size="11" font-style="italic" fill="#222" text-anchor="middle">Intensity (W/m2 cm-1)</text>
<!-- legend -->
<g stroke-width="2">
<line x1="661" y1="35.8" x2="683.5" y2="35.8" stroke="#3366cc"/>
<line x1="661" y1="53.8" x2="683.5" y2="53.8" stroke="#dc3912"/>
<line x1="661" y1="85.8" x2="683.5" y2="85.8" stroke="#ff9900"/>
<line x1="661" y1="103.5" x2="683.5" y2="103.5" stroke="#109618"/>
<line x1="661" y1="121.3" x2="683.5" y2="121.3" stroke="#990099"/>
<line x1="661" y1="139" x2="683.5" y2="139" stroke="#0099c6"/>
<line x1="661" y1="156.8" x2="683.5" y2="156.8" stroke="#dd4477"/>
</g>
<g font-size="11" fill="#222">
<text x="687.3" y="39.1">Model</text>
<text x="687.3" y="57.1">Model</text>
<text x="687.3" y="71.9">Alt</text>
<text x="687.3" y="89.1">300 K</text>
<text x="687.3" y="106.8">280 K</text>
<text x="687.3" y="124.6">260 K</text>
<text x="687.3" y="142.3">240 K</text>
<text x="687.3" y="160.1">220 K</text>
</g>

<!-- right chart -->
<g stroke="#dcdcdc" stroke-width="1" shape-rendering="crispEdges">
<line x1="772" y1="29.5" x2="877" y2="29.5"/>
<line x1="772" y1="103.5" x2="877" y2="103.5"/>
<line x1="772" y1="179.5" x2="877" y2="179.5"/>
<line x1="772" y1="253.5" x2="877" y2="253.5"/>
<line x1="777.5" y1="29" x2="777.5" y2="328"/>
<line x1="797.5" y1="29" x2="797.5" y2="328"/>
<line x1="817.5" y1="29" x2="817.5" y2="328"/>
<line x1="836.5" y1="29" x2="836.5" y2="328"/>
<line x1="857.5" y1="29" x2="857.5" y2="328"/>
</g>
<polyline points="877.0,328.0 871.0,324.3 865.1,320.5 861.1,316.8 774.7,268.2 772.4,264.5 776.7,260.7 780.6,257.0 784.6,253.2 788.6,249.5 792.6,245.8 794.6,242.0 796.5,238.3 798.5,234.6 809.5,215.9 820.4,197.2 831.3,178.5 842.2,159.8 847.2,141.1 796.5,66.4" fill="none" stroke="#3366cc" stroke-width="2" stroke-linejoin="round"/>
<line x1="772" y1="328.5" x2="877" y2="328.5" stroke="#333" stroke-width="1" shape-rendering="crispEdges"/>
<g font-size="10" fill="#383838" text-anchor="end">
<text x="768" y="32.6">80</text>
<text x="768" y="107.6">60</text>
<text x="768" y="182.6">40</text>
<text x="768" y="257.1">20</text>
<text x="768" y="331.6">0</text>
</g>
<g font-size="10" fill="#383838" text-anchor="middle">
<text x="777.4" y="342.6">200</text>
<text x="797.3" y="354.6">220</text>
<text x="817.2" y="342.6">240</text>
<text x="837" y="354.6">260</text>
<text x="857.2" y="342.6">280</text>
</g>
<text x="825" y="376.6" font-size="10" font-style="italic" fill="#222" text-anchor="middle">T (K)</text>
<text transform="translate(750.9,178.6) rotate(-90)" font-size="9.4" font-style="italic" fill="#222" text-anchor="middle">Altitude (km)</text>
</svg>

<div class="sel" style="left:442px;top:424.5px;width:89px;height:22px"><span style="left:6.5px;font-size:10.3px;margin-top:-1px">Wavenumber</span>
<svg class="chev" style="left:72.2px;top:7.3px" width="9" height="5" viewBox="0 0 9 5"><polyline points="0.5,0.5 4.5,4.5 8.5,0.5" fill="none" stroke="#5a5a5a" stroke-width="1"/></svg></div>
<div class="sel" style="left:782px;top:424.5px;width:118px;height:22px"><span style="left:5.8px;font-size:10.5px;margin-top:-1px">T (K)</span>
<svg class="chev" style="left:101.2px;top:7px" width="9" height="5" viewBox="0 0 9 5"><polyline points="0.5,0.5 4.5,4.5 8.5,0.5" fill="none" stroke="#5a5a5a" stroke-width="1"/></svg></div>

<!-- bottom strip -->
<div class="a" style="left:0;top:494px;width:900px;height:1px;background:#222"></div>
<div class="a" style="left:15px;top:494px;width:293px;height:1px;background:#4a4a4a"></div>
<div class="a" style="left:725px;top:494px;width:41px;height:1px;background:#555"></div>
</div></body></html>
